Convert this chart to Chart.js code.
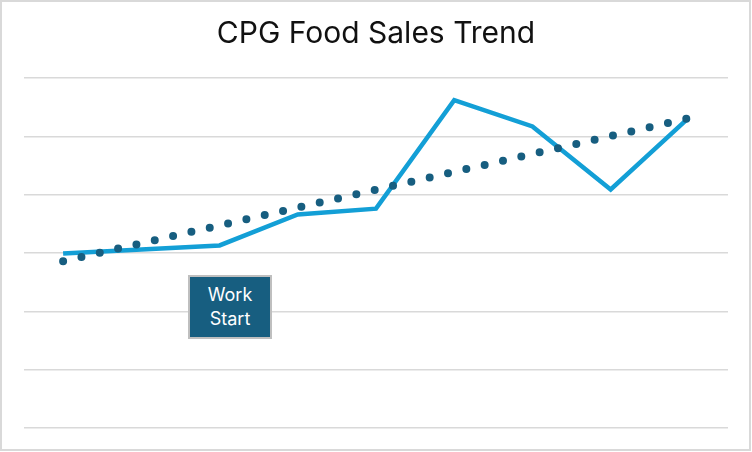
<!DOCTYPE html>
<html>
<head>
<meta charset="utf-8">
<script src="https://cdn.jsdelivr.net/npm/chart.js@4.4.0/dist/chart.umd.min.js"></script>
<style>
    html, body { margin: 0; padding: 0; background: #fff; }
    #wrap {
        position: relative;
        width: 752px;
        height: 452px;
    }
    #frame {
        position: absolute;
        left: 0; top: 0;
        width: 751px; height: 451px;
        box-sizing: border-box;
        border: 2px solid #d9d9d9;
        pointer-events: none;
    }
    #salesChart { position: absolute; left: 0; top: 0; }
    .note-box {
        position: absolute;
        left: 188px; top: 275px;
        width: 84px; height: 64px;
        box-sizing: border-box;
        background: #175e80;
        border: 2px solid #bfbfbf;
        color: #fff;
        font-family: Inter, "Open Sans", sans-serif;
        font-size: 18px;
        line-height: 24px;
        text-align: center;
        padding-top: 6px;
    }
</style>
</head>
<body>
<div id="wrap">
    <canvas id="salesChart" width="752" height="452"></canvas>
    <div class="note-box">Work<br>Start</div>
    <div id="frame"></div>
</div>
<script>
// Chart data (arbitrary units)
const periods = ['P1', 'P2', 'P3', 'P4', 'P5', 'P6', 'P7', 'P8', 'P9'];
const salesValues = [2.99, 3.06, 3.13, 3.66, 3.76, 5.62, 5.17, 4.09, 5.32];
// Linear trend: only first and last points, line spans the gaps
const trendValues = [2.86, null, null, null, null, null, null, null, 5.31];
const yTicks = [0, 1, 2, 3, 4, 5, 6];

function initChart() {
    const ctx = document.getElementById('salesChart');
    new Chart(ctx, {
        type: 'line',
        data: {
            labels: periods,
            datasets: [
                {
                    label: 'Sales',
                    data: salesValues,
                    borderColor: '#139fd6',
                    borderWidth: 4.5,
                    pointRadius: 0,
                    tension: 0,
                    order: 2
                },
                {
                    label: 'Trend',
                    data: trendValues,
                    spanGaps: true,
                    borderColor: '#175e80',
                    borderWidth: 8,
                    borderCapStyle: 'round',
                    borderDash: [0, 18.8],
                    pointRadius: 0,
                    tension: 0,
                    order: 1
                }
            ]
        },
        options: {
            responsive: false,
            animation: false,
            layout: {
                padding: { left: 24, right: 24, top: 0, bottom: 24 }
            },
            plugins: {
                legend: { display: false },
                tooltip: { enabled: false },
                title: {
                    display: true,
                    text: 'CPG Food Sales Trend',
                    color: '#111111',
                    font: { family: 'Inter', size: 30, weight: 'normal', lineHeight: 1.2 },
                    padding: { top: 16, bottom: 26 }
                }
            },
            scales: {
                x: {
                    offset: true,
                    grid: { display: false, drawTicks: false },
                    border: { display: false },
                    ticks: { display: false }
                },
                y: {
                    min: yTicks[0],
                    max: yTicks[yTicks.length - 1],
                    afterBuildTicks: axis => {
                        axis.ticks = yTicks.map(v => ({ value: v }));
                    },
                    grid: { color: '#d9d9d9', lineWidth: 1.5, drawTicks: false },
                    border: { display: false },
                    ticks: { display: false }
                }
            }
        }
    });
}

initChart();
</script>
</body>
</html>
